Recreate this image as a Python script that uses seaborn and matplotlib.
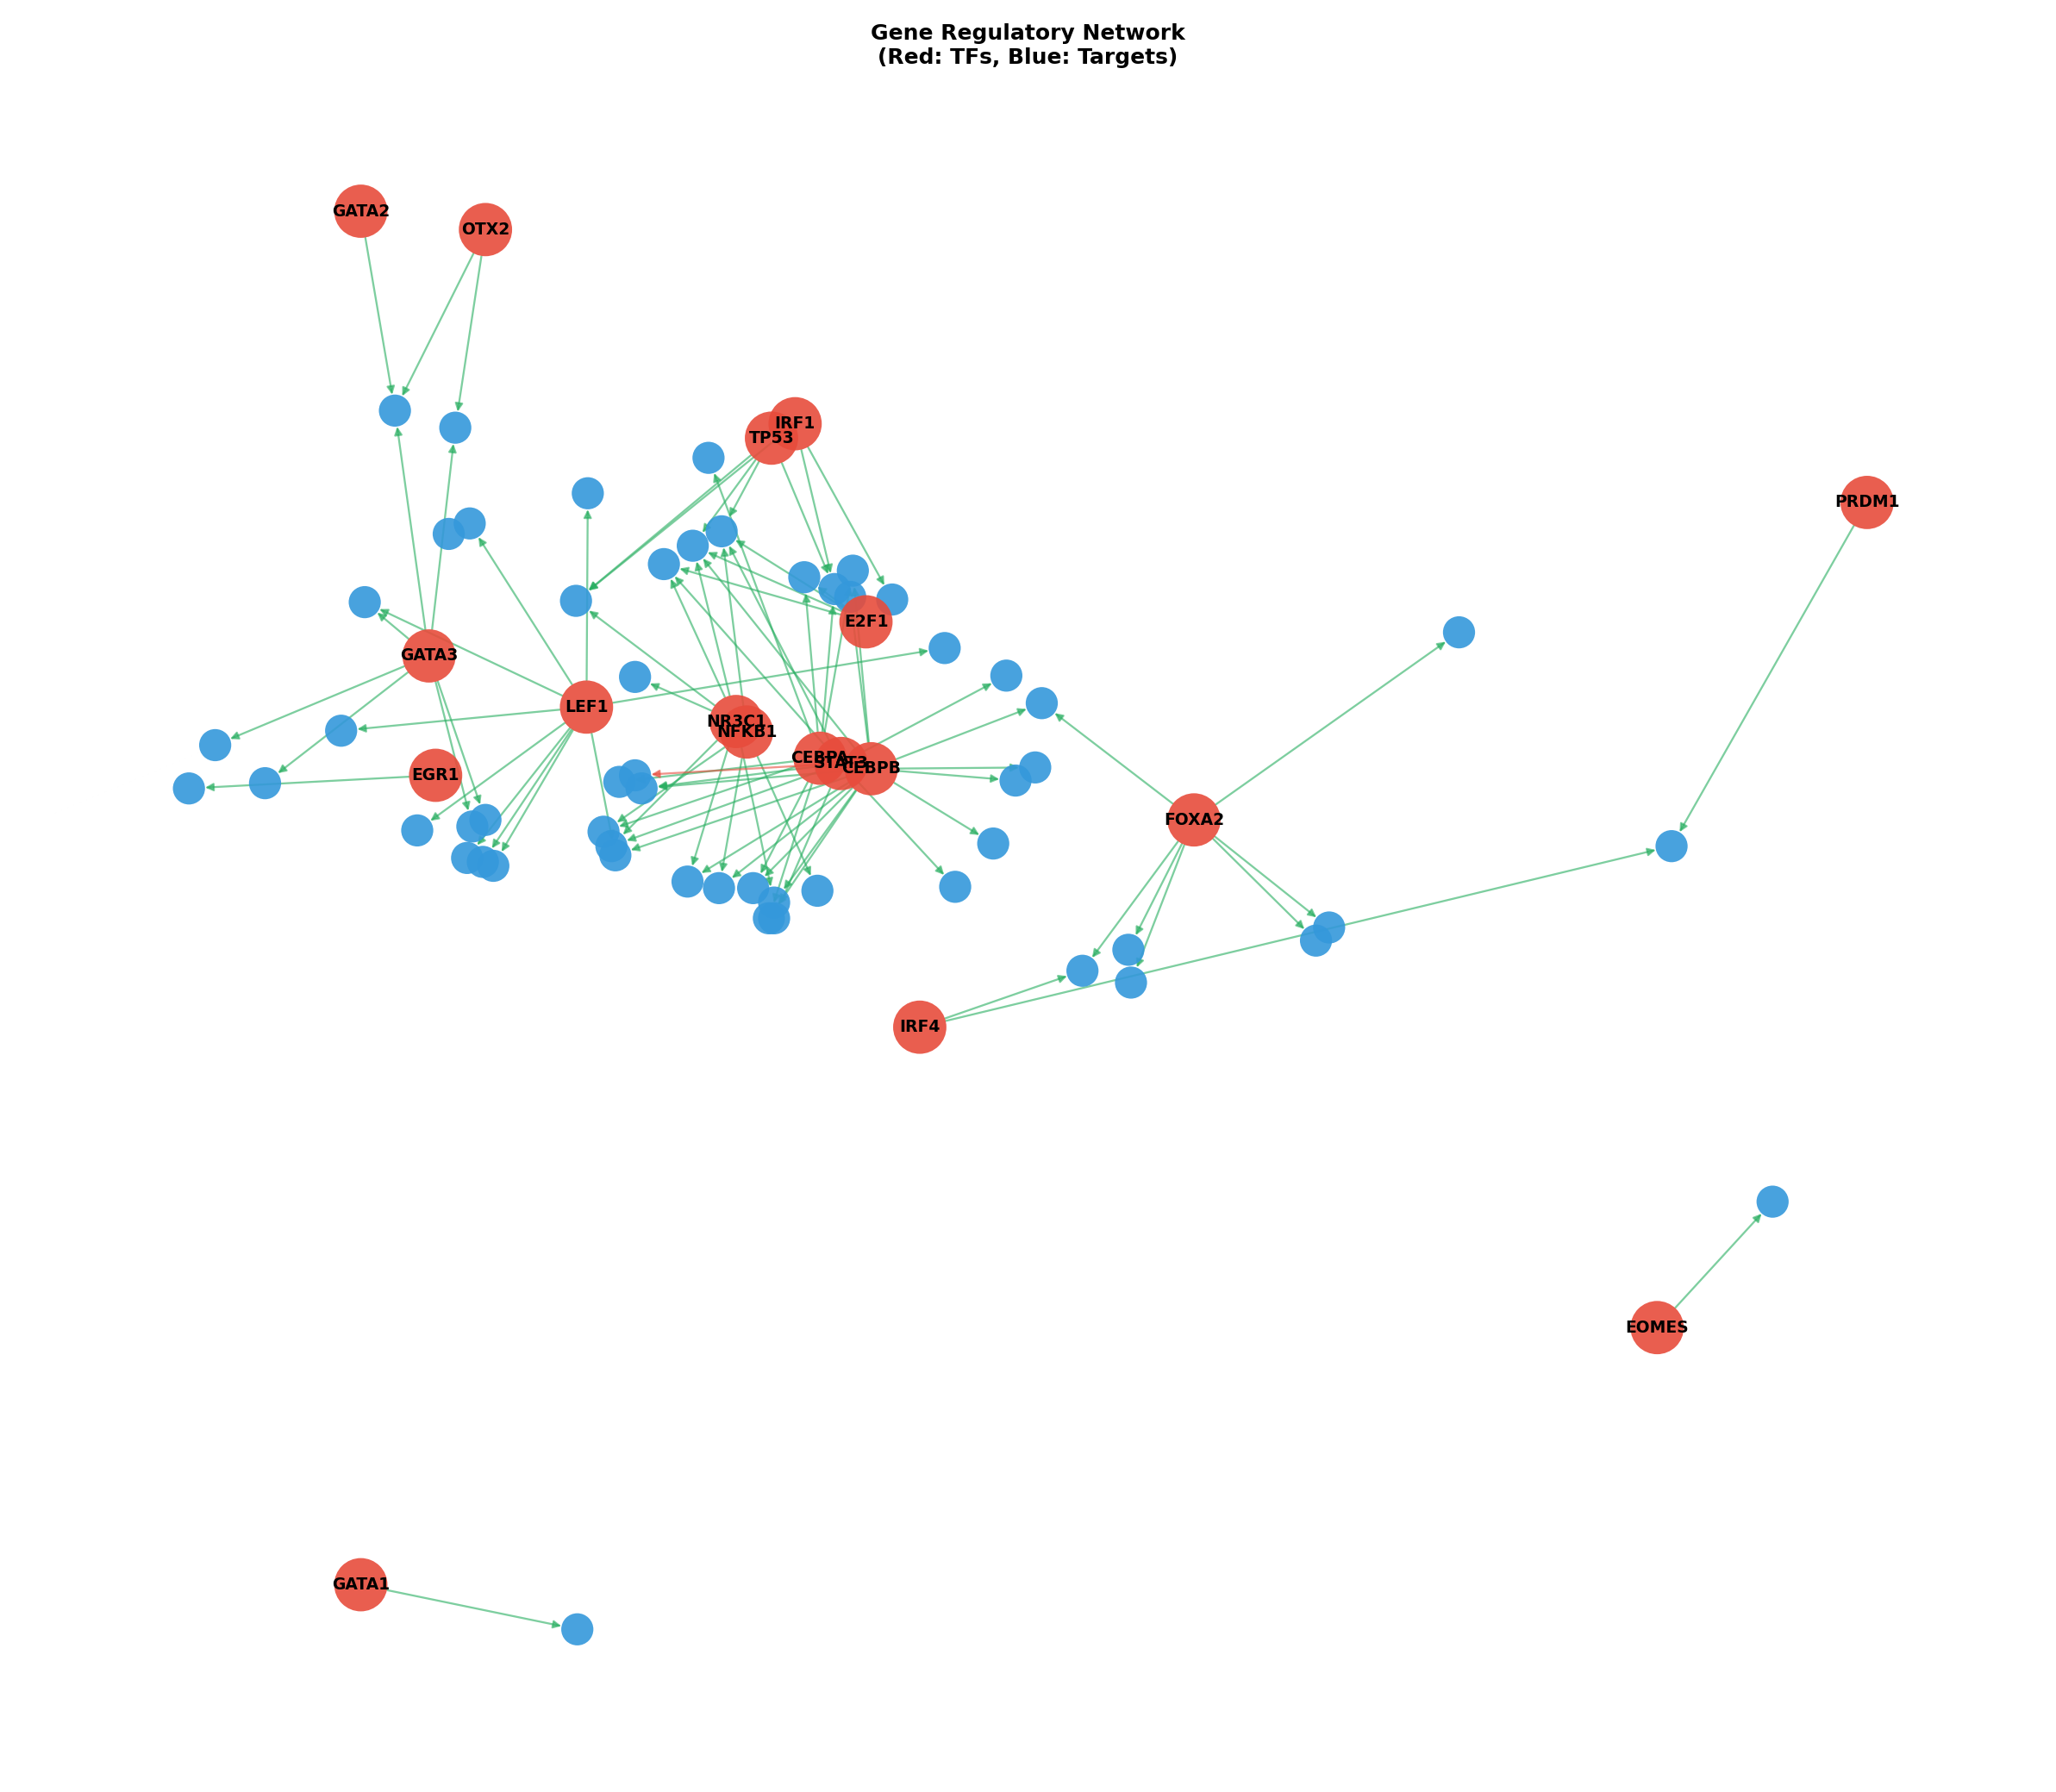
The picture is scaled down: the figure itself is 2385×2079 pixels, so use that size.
"""
Gene regulatory network
"""

import matplotlib.pyplot as plt
import pandas as pd
import seaborn as sns

# transcription factors and their layout positions (picture coordinates)
tf_names = ["GATA2", "OTX2", "IRF1", "TP53", "PRDM1", "E2F1", "GATA3", "LEF1", "NR3C1",
            "NFKB1", "CEBPA", "STAT3", "CEBPB", "EGR1", "FOXA2", "IRF4", "EOMES", "GATA1"]
tf_x = [275, 370, 606, 588, 1423, 660, 327, 447, 561, 569, 625, 641, 664, 332, 910, 701, 1263, 275]
tf_y = [161, 175, 323, 334, 383, 474, 500, 539, 550, 558, 578, 582, 586, 591, 625, 783, 1012, 1208]

# target genes (unlabelled)
tg_x = [301, 347, 540, 448, 358, 342, 550, 528, 506, 613, 650, 636, 648, 680, 439, 278, 720, 1112,
        767, 794, 484, 260, 164, 202, 144, 789, 774, 472, 484, 489, 318, 360, 370, 356, 368, 376,
        460, 466, 469, 757, 1274, 524, 548, 574, 623, 728, 590, 586, 590, 1013, 1003, 860, 825,
        862, 1351, 440]
tg_y = [313, 326, 349, 376, 399, 407, 405, 416, 430, 440, 435, 449, 455, 457, 458, 459, 494, 482,
        515, 536, 516, 557, 568, 597, 601, 585, 595, 596, 591, 601, 633, 630, 625, 654, 657, 660,
        634, 645, 652, 643, 645, 672, 677, 677, 679, 676, 688, 700, 700, 707, 717, 724, 740, 749,
        916, 1242]

edges = {
    "GATA2": [0], "OTX2": [0, 1], "GATA3": [0, 1, 15, 22, 23, 31, 32],
    "LEF1": [3, 4, 15, 21, 30, 33, 34, 35, 38, 16], "EGR1": [24],
    "TP53": [14, 6, 7, 11], "IRF1": [11, 13, 14], "E2F1": [8, 7, 6, 9],
    "NR3C1": [8, 7, 14, 20, 41, 46, 37], "NFKB1": [36, 42, 44, 6],
    "CEBPA": [2, 9, 10, 11, 27, 36, 43, 47], "STAT3": [8, 6, 18, 29, 37, 45, 48],
    "CEBPB": [12, 10, 19, 25, 26, 39, 29, 38, 41, 42, 43, 46, 47, 7],
    "FOXA2": [17, 19, 49, 50, 51, 52, 53], "IRF4": [52, 40], "PRDM1": [40],
    "EOMES": [54], "GATA1": [55],
}
red_edges = [("STAT3", 28)]


def main():
    sns.set_theme(style="white")
    fig = plt.figure(figsize=(15.9, 13.86), dpi=150)
    ax = fig.add_axes([0, 0, 1, 1])

    pos = dict(zip(tf_names, zip(tf_x, tf_y)))

    def arrow(src, t, color):
        ax.annotate("", xy=(tg_x[t], tg_y[t]), xytext=pos[src],
                    arrowprops=dict(arrowstyle="-|>", color=color, alpha=0.6, lw=1.1,
                                    mutation_scale=9, shrinkA=15, shrinkB=9),
                    zorder=1)

    for src, targets in edges.items():
        for t in targets:
            arrow(src, t, "#27ae60")
    for src, t in red_edges:
        arrow(src, t, "#e74c3c")

    tg = pd.DataFrame({"x": tg_x, "y": tg_y})
    tf = pd.DataFrame({"x": tf_x, "y": tf_y, "name": tf_names})
    sns.scatterplot(data=tg, x="x", y="y", ax=ax, s=320, color="#3498db", alpha=0.9,
                    edgecolor="none", zorder=2)
    sns.scatterplot(data=tf, x="x", y="y", ax=ax, s=880, color="#e74c3c", alpha=0.9,
                    edgecolor="none", zorder=3)
    for _, r in tf.iterrows():
        ax.text(r.x, r.y, r["name"], ha="center", va="center", fontsize=9,
                fontweight="bold", color="black", zorder=4)
    ax.set_xlim(0, 1567)
    ax.set_ylim(1366, 0)
    ax.axis("off")

    fig.text(0.5, 0.987, "Gene Regulatory Network\n(Red: TFs, Blue: Targets)",
             ha="center", va="top", fontsize=12, fontweight="bold", color="black")
    fig.savefig("out.png", dpi=150)


if __name__ == "__main__":
    main()
